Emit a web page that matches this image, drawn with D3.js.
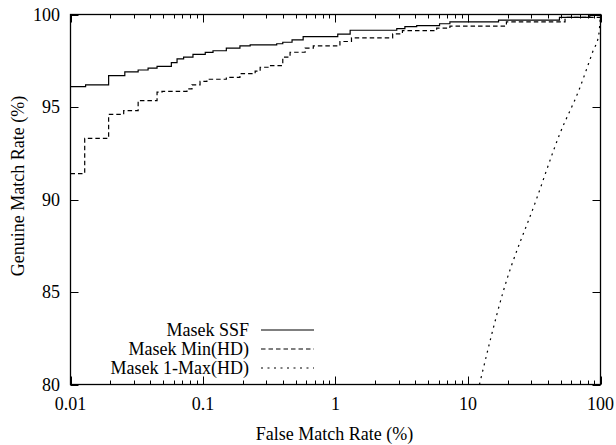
<!DOCTYPE html>
<html><head><meta charset="utf-8">
<script src="https://cdn.jsdelivr.net/npm/d3@7"></script>
<style>body{margin:0;background:#fff}svg{display:block}</style>
</head><body>
<svg id="c" width="616" height="445"></svg>
<script>
const xTickValues = [0.01, 0.1, 1, 10, 100];
const xTickLabels = ["0.01", "0.1", "1", "10", "100"];
const yTickValues = [80, 85, 90, 95, 100];
const seriesNames = ["Masek SSF", "Masek Min(HD)", "Masek 1-Max(HD)"];
const ssfX = [0.01,0.013,0.0194,0.0257,0.0324,0.0385,0.045,0.0577,0.0637,0.0714,0.084,0.104,0.119,0.15,0.19,0.227,0.36,0.40,0.47,0.57,1.04,1.29,2.9,3.34,4.1,6.1,7.3,17,49,83,100];
const ssfY = [96.1,96.2,96.7,96.9,97.0,97.1,97.2,97.4,97.6,97.7,97.85,97.95,98.04,98.18,98.3,98.36,98.42,98.5,98.63,98.8,98.94,99.15,99.24,99.35,99.4,99.5,99.6,99.7,99.85,99.95,100];
const minX = [0.01,0.0128,0.0194,0.0252,0.0324,0.045,0.049,0.0757,0.0826,0.095,0.107,0.15,0.19,0.2475,0.27,0.32,0.40,0.454,0.59,0.68,1.08,1.32,2.7,3.2,5.8,7.3,19.5,54,100];
const minY = [91.4,93.3,94.6,94.8,95.35,95.8,95.85,95.98,96.2,96.38,96.5,96.6,96.8,96.94,97.15,97.24,97.7,97.96,98.18,98.3,98.54,98.74,98.95,99.13,99.26,99.37,99.6,99.85,100];
const maxX = [12.2,18.4,32.8,49,69.5,87.5,97,100];
const maxY = [80,85,90,93.5,96,98,98.9,100];

const svg = d3.select("#c");
const L = 70.5, R = 600.5, T = 14.5, B = 384.5;
const x = d3.scaleLog().domain([0.01, 100]).range([L, R]);
const y = d3.scaleLinear().domain([80, 100]).range([B, T]);
const FS = 18;
const FF = "Times New Roman, Times, serif";

const minor = [];
[0.01, 0.1, 1, 10].forEach(d => { for (let k = 2; k <= 9; k++) minor.push(d * k); });
const tg = svg.append("g").attr("stroke", "#000").attr("stroke-width", 1);
minor.forEach(v => {
  const px = Math.round(x(v)) + 0.5;
  tg.append("line").attr("x1", px).attr("x2", px).attr("y1", B).attr("y2", B - 4);
  tg.append("line").attr("x1", px).attr("x2", px).attr("y1", T).attr("y2", T + 4);
});
xTickValues.forEach(v => {
  const px = Math.round(x(v)) + 0.5;
  tg.append("line").attr("x1", px).attr("x2", px).attr("y1", B).attr("y2", B - 8);
  tg.append("line").attr("x1", px).attr("x2", px).attr("y1", T).attr("y2", T + 8);
});
yTickValues.forEach(v => {
  const py = Math.round(y(v)) + 0.5;
  tg.append("line").attr("x1", L).attr("x2", L + 8).attr("y1", py).attr("y2", py);
  tg.append("line").attr("x1", R).attr("x2", R - 8).attr("y1", py).attr("y2", py);
});

function txt(xp, yp, s, anchor) {
  return svg.append("text").attr("x", xp).attr("y", yp).attr("text-anchor", anchor)
    .attr("font-size", FS).attr("font-family", FF).attr("fill", "#000").text(s);
}
xTickValues.forEach((v, i) => txt(x(v), 410, xTickLabels[i], "middle"));
yTickValues.forEach(v => txt(60, y(v) + 6, v, "end"));

svg.append("rect").attr("x", L).attr("y", T).attr("width", R - L).attr("height", B - T)
  .attr("fill", "none").attr("stroke", "#000").attr("stroke-width", 1.3);

txt(334.5, 440, "False Match Rate (%)", "middle");
svg.append("text").attr("transform", "translate(24,186) rotate(-90)").attr("text-anchor", "middle")
  .attr("font-size", FS).attr("font-family", FF).attr("fill", "#000").text("Genuine Match Rate (%)");

svg.append("clipPath").attr("id", "pc").append("rect")
  .attr("x", L).attr("y", T - 1).attr("width", R - L).attr("height", B - T + 1);
const series = [
  {xs: ssfX, ys: ssfY, dash: null, curve: d3.curveStepAfter},
  {xs: minX, ys: minY, dash: "4.5,3", curve: d3.curveStepAfter},
  {xs: maxX, ys: maxY, dash: "2,4.5", curve: d3.curveMonotoneX}
];
series.forEach(s => {
  const pts = s.xs.map((v, i) => [v, s.ys[i]]);
  const line = d3.line().x(d => x(d[0])).y(d => y(d[1])).curve(s.curve);
  svg.append("path").attr("d", line(pts)).attr("fill", "none").attr("stroke", "#000")
    .attr("stroke-width", 1.2).attr("stroke-dasharray", s.dash).attr("clip-path", "url(#pc)");
});

const legY = [330, 349, 368];
seriesNames.forEach((n, i) => {
  txt(249, legY[i] + 6, n, "end");
  svg.append("line").attr("x1", 261).attr("x2", 314).attr("y1", legY[i]).attr("y2", legY[i])
    .attr("stroke", "#000").attr("stroke-width", 1.2).attr("stroke-dasharray", series[i].dash);
});
</script>
</body></html>
